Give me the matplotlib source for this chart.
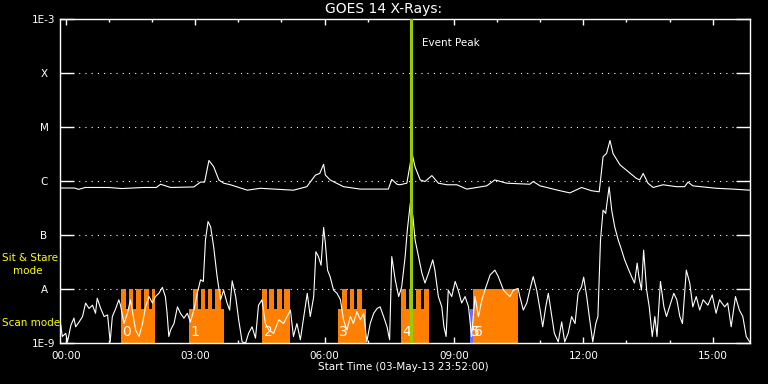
import numpy as np
import matplotlib.pyplot as plt
from matplotlib.ticker import MultipleLocator, NullLocator

# GOES 14 long channel (1-8 A), hours after 00:00, log10 W/m^2
long_t = [-0.13, 0.2, 0.3, 0.45, 1.0, 1.3, 1.8, 2.1, 2.2, 2.43,
          2.97, 3.125, 3.22, 3.32, 3.43, 3.55, 3.66, 3.82, 4.21, 4.51,
          5.28, 5.59, 5.79, 5.89, 5.98, 6.02, 6.13, 6.44, 6.83, 7.48,
          7.56, 7.68, 7.75, 7.91, 7.99, 8.03, 8.10, 8.22, 8.33, 8.49,
          8.64, 8.84, 9.07, 9.30, 9.76, 9.95, 10.22, 10.76, 10.84, 11.00,
          11.46, 11.69, 11.96, 12.19, 12.37, 12.46, 12.54, 12.62, 12.69, 12.85,
          13.23, 13.31, 13.39, 13.50, 13.62, 13.85, 14.16, 14.35, 14.43, 14.54,
          15.09, 15.47, 15.86]
long_log = [-6.13, -6.13, -6.155, -6.12, -6.12, -6.14, -6.12, -6.12, -6.06, -6.12,
            -6.11, -6.02, -6.02, -5.62, -5.735, -5.98, -6.04, -6.07, -6.17, -6.135,
            -6.17, -6.105, -5.89, -5.86, -5.69, -5.89, -5.98, -6.105, -6.15, -6.15,
            -5.97, -6.06, -6.07, -6.04, -5.67, -5.49, -5.74, -5.98, -6.01, -5.90,
            -6.04, -6.07, -6.07, -6.15, -6.09, -5.98, -6.04, -6.06, -6.01, -6.09,
            -6.18, -6.22, -6.12, -6.18, -6.20, -5.55, -5.49, -5.25, -5.49, -5.70,
            -5.95, -5.98, -5.86, -6.04, -6.12, -6.07, -6.105, -6.105, -6.02, -6.09,
            -6.135, -6.15, -6.17]

# short channel (0.5-4 A)
short_t = [-0.12, -0.08, 0.0, 0.04, 0.12, 0.19, 0.23, 0.31, 0.39, 0.46,
           0.54, 0.62, 0.69, 0.73, 0.81, 0.89, 0.97, 1.03, 1.08, 1.16,
           1.23, 1.27, 1.35, 1.43, 1.50, 1.54, 1.62, 1.70, 1.78, 1.85,
           1.93, 2.01, 2.08, 2.16, 2.24, 2.31, 2.35, 2.39, 2.43, 2.51,
           2.59, 2.66, 2.74, 2.82, 2.89, 2.97, 3.05, 3.125, 3.19, 3.24,
           3.30, 3.36, 3.43, 3.51, 3.59, 3.66, 3.74, 3.80, 3.86, 3.94,
           4.01, 4.09, 4.17, 4.24, 4.32, 4.40, 4.47, 4.55, 4.63, 4.71,
           4.82, 4.94, 5.05, 5.21,
           5.28, 5.36, 5.44, 5.52, 5.60, 5.67, 5.75, 5.80, 5.86, 5.92,
           5.98, 6.02, 6.07, 6.13, 6.21, 6.29, 6.37, 6.44, 6.52, 6.60,
           6.67, 6.75, 6.83, 6.91, 6.98, 7.06, 7.14, 7.22, 7.29, 7.37,
           7.45, 7.51, 7.56, 7.64, 7.72, 7.79, 7.87, 7.92, 7.99, 8.05,
           8.10, 8.18, 8.26, 8.33, 8.41, 8.51, 8.56, 8.64, 8.72, 8.77,
           8.82, 8.87, 8.95, 9.03, 9.10, 9.18, 9.26, 9.34, 9.41, 9.49,
           9.57, 9.65, 9.72, 9.84, 9.95, 10.03, 10.15, 10.22, 10.30, 10.38,
           10.49,
           10.53, 10.61, 10.69, 10.76, 10.84, 10.92, 11.00, 11.06, 11.13, 11.19,
           11.27, 11.33, 11.42, 11.50, 11.57, 11.65, 11.73, 11.81, 11.88, 11.96,
           12.01, 12.08, 12.15, 12.22, 12.29, 12.34, 12.40, 12.46, 12.52, 12.55,
           12.60, 12.66, 12.73, 12.81, 12.89, 12.96, 13.04, 13.12, 13.19, 13.25,
           13.29, 13.35, 13.40, 13.47, 13.53, 13.60, 13.66, 13.71, 13.79, 13.87,
           13.93, 14.00, 14.10, 14.17, 14.24, 14.30, 14.39, 14.47, 14.54, 14.62,
           14.70, 14.78, 14.89, 14.99, 15.08, 15.16, 15.28, 15.35, 15.43, 15.53,
           15.62, 15.70, 15.78, 15.86]
short_log = [-8.64, -8.88, -8.82, -8.98, -8.67, -8.54, -8.70, -8.61, -8.51, -8.26,
             -8.36, -8.30, -8.45, -8.17, -8.36, -8.51, -8.48, -8.98, -8.51, -8.36,
             -8.20, -8.30, -8.64, -8.45, -8.20, -8.39, -8.76, -8.88, -8.64, -8.33,
             -8.14, -8.26, -8.14, -8.08, -7.97, -8.14, -8.45, -8.88, -8.76, -8.64,
             -8.33, -8.45, -8.54, -8.45, -8.61, -8.39, -8.08, -7.83, -7.86, -7.09,
             -6.75, -6.85, -7.22, -7.77, -8.20, -8.02, -8.26, -8.39, -7.85, -8.14,
             -8.57, -8.98, -9.0, -8.82, -8.70, -8.91, -8.30, -8.20, -8.64, -8.76,
             -8.82, -8.57, -8.64, -8.39,
             -8.88, -8.64, -8.94, -8.51, -8.08, -8.51, -8.14, -7.31, -7.40, -7.56,
             -6.86, -7.15, -7.65, -7.77, -8.02, -8.08, -8.20, -8.57, -8.76, -8.51,
             -8.64, -8.42, -8.57, -8.45, -8.98, -8.64, -8.45, -8.36, -8.33, -8.51,
             -8.70, -8.94, -7.40, -7.83, -8.14, -7.96, -7.40, -6.91, -6.41, -6.66,
             -7.09, -7.40, -7.71, -7.89, -7.71, -7.46, -7.65, -8.14, -8.33, -8.70,
             -8.88, -8.02, -8.14, -7.86, -8.02, -8.26, -8.14, -8.33, -8.88, -8.14,
             -8.51, -8.20, -8.02, -7.74, -7.65, -7.77, -8.02, -8.08, -8.14, -8.02,
             -7.99,
             -8.14, -8.39, -8.26, -8.02, -7.77, -8.02, -8.39, -8.70, -8.33, -8.08,
             -8.51, -8.82, -8.98, -8.61, -8.98, -8.82, -8.51, -8.64, -8.08, -7.96,
             -7.78, -8.14, -8.57, -8.98, -8.64, -8.51, -7.09, -6.54, -6.60, -6.41,
             -6.11, -6.54, -6.85, -7.09, -7.28, -7.46, -7.62, -7.77, -7.89, -7.52,
             -7.77, -8.02, -7.28, -8.02, -8.33, -8.88, -8.51, -8.88, -7.86, -8.33,
             -8.51, -8.33, -8.08, -8.20, -8.51, -8.64, -7.65, -7.89, -8.33, -8.14,
             -8.39, -8.20, -8.30, -8.11, -8.45, -8.20, -8.33, -8.26, -8.70, -8.14,
             -8.39, -8.51, -8.88, -8.98]

# observing timeline (hours)
scan_start = [1.27, 2.85, 4.56, 6.31, 7.78]
scan_end = [2.08, 3.66, 5.19, 6.96, 8.43]
sas_start = [1.27, 1.46, 1.62, 1.81, 1.99, 2.94, 3.13, 3.29, 3.47,
             4.56, 4.72, 4.91, 5.07, 6.41, 6.60, 6.76, 7.78, 7.96, 8.13, 8.31, 9.44]
sas_end = [1.39, 1.55, 1.74, 1.92, 2.08, 3.06, 3.24, 3.40, 3.59,
           4.67, 4.84, 5.02, 5.19, 6.53, 6.69, 6.88, 7.89, 8.06, 8.24, 8.43, 10.48]
blue_start = [9.375]
blue_end = [9.44]
obs_labels = ['0', '1', '2', '3', '4', '5', '6']
obs_label_t = [1.31, 2.88, 4.59, 6.34, 7.81, 9.39, 9.47]

scan_top = 4.3e-9
sas_top = 1e-8
event_peak = 8.01

ylevels = [1e-9, 1e-8, 1e-7, 1e-6, 1e-5, 1e-4, 1e-3]
ylabels = ['1E-9', 'A', 'B', 'C', 'M', 'X', '1E-3']
xticks = [0, 3, 6, 9, 12, 15]
xlabels = ['00:00', '03:00', '06:00', '09:00', '12:00', '15:00']

fig = plt.figure(figsize=(7.68, 3.84), dpi=100, facecolor='black')
ax = fig.add_axes([60 / 768, 41 / 384, 690 / 768, 324 / 384])
ax.set_facecolor('black')
ax.set_yscale('log')

ymin = ylevels[0]
ss, se = np.array(scan_start), np.array(scan_end)
ax.bar(ss, scan_top - ymin, width=se - ss, bottom=ymin, align='edge',
       color='#ff8000', linewidth=0, zorder=2)
ts, te = np.array(sas_start), np.array(sas_end)
ax.bar(ts, sas_top - ymin, width=te - ts, bottom=ymin, align='edge',
       color='#ff8000', linewidth=0, zorder=2)
bs, be = np.array(blue_start), np.array(blue_end)
ax.bar(bs, scan_top - ymin, width=be - bs, bottom=ymin, align='edge',
       color='#6a6aff', linewidth=0, zorder=2)

for lev in ylevels[1:-1]:
    ax.axhline(lev, color='white', lw=0.8, ls=(0, (1, 4.6)), zorder=1)

ax.plot(long_t, 10 ** np.array(long_log), color='white', lw=0.8, zorder=3)
ax.plot(short_t, 10 ** np.array(short_log), color='white', lw=0.8, zorder=3)

for lab, t in zip(obs_labels, obs_label_t):
    ax.text(t, 10 ** -8.92, lab, color='white', fontsize=10, ha='left',
            va='bottom', zorder=4)

ax.axvline(event_peak, color='#99cc00', lw=2.2, zorder=5)
ax.text(event_peak + 0.25, 0.926, 'Event Peak', color='white', fontsize=7.5,
        va='center', transform=ax.get_xaxis_transform())

ax.set_xlim(-8 / 60, 16 - 8 / 60)
ax.set_ylim(1e-9, 1e-3)

ax.set_yticks(ylevels)
ax.set_yticklabels(ylabels)
ax.yaxis.set_minor_locator(NullLocator())
for lab in ax.get_yticklabels():
    lab.set_horizontalalignment('center')
ax.tick_params(axis='y', which='major', direction='in', left=True, right=True,
               length=10, width=1, colors='white', labelsize=7.5, pad=11.5)

ax.set_xticks(xticks)
ax.set_xticklabels(xlabels)
ax.xaxis.set_minor_locator(MultipleLocator(1))
ax.tick_params(axis='x', which='major', direction='in', top=True, bottom=True,
               length=4.5, width=1, colors='white', labelsize=7.5, pad=6)
ax.tick_params(axis='x', which='minor', direction='in', top=True, bottom=True,
               length=2.5, width=1, colors='white')

for s in ax.spines.values():
    s.set_color('white')
    s.set_linewidth(1)

fig.text(0.5, 1 - 9 / 384, 'GOES 14 X-Rays:', color='white', fontsize=10,
         ha='center', va='center')
fig.text(403 / 768, 1 - 367 / 384, 'Start Time (03-May-13 23:52:00)',
         color='white', fontsize=7.5, ha='center', va='center')
fig.text(2 / 768, 1 - 258 / 384, 'Sit & Stare', color='#ffff00', fontsize=7.5,
         ha='left', va='center')
fig.text(13 / 768, 1 - 271 / 384, 'mode', color='#ffff00', fontsize=7.5,
         ha='left', va='center')
fig.text(2 / 768, 1 - 323.5 / 384, 'Scan mode', color='#ffff00', fontsize=7.5,
         ha='left', va='center')

fig.savefig('out.png', dpi=100, facecolor='black')
